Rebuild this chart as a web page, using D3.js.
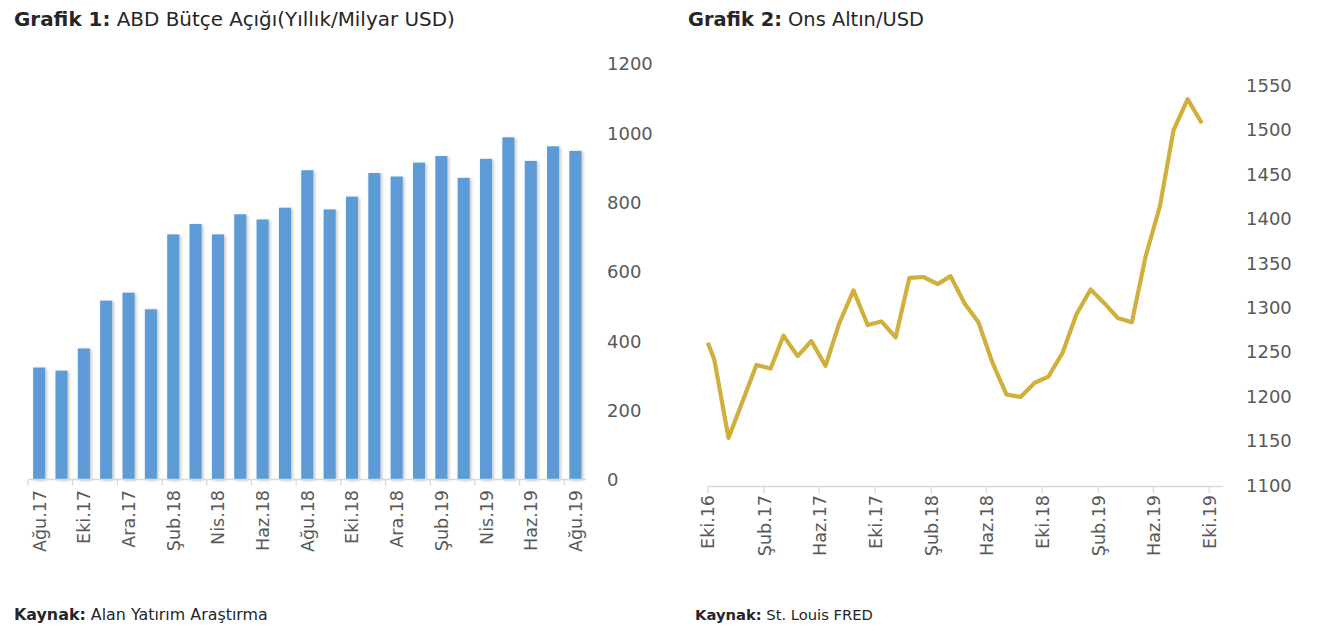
<!DOCTYPE html>
<html>
<head>
<meta charset="utf-8">
<script src="https://cdn.jsdelivr.net/npm/d3@7"></script>
<style>
  html, body { margin: 0; padding: 0; background: #fff; }
  svg { display: block; }
  text { font-family: "DejaVu Sans", "Noto Sans", sans-serif; }
</style>
</head>
<body>
<svg id="chart" width="1332" height="630"></svg>
<script>
// ---------- DATA ----------
// Chart 1: ABD bütçe açığı (yıllık, milyar USD), monthly Ağu.17 .. Ağu.19
const budgetMonths = ["2017-08","2017-09","2017-10","2017-11","2017-12","2018-01","2018-02","2018-03","2018-04","2018-05","2018-06","2018-07","2018-08","2018-09","2018-10","2018-11","2018-12","2019-01","2019-02","2019-03","2019-04","2019-05","2019-06","2019-07","2019-08"];
const budgetValues = [323, 314, 378, 516, 539, 491, 707, 737, 707, 765, 750, 784, 892, 779, 816, 884, 874, 914, 933, 870, 925, 987, 919, 961, 948];
const budgetTicks = [0, 200, 400, 600, 800, 1000, 1200];

// Chart 2: Ons altın / USD
const goldDates = ["2016-10-01","2016-10-15","2016-11-15","2016-12-15","2017-01-15","2017-02-15","2017-03-15","2017-04-15","2017-05-15","2017-06-15","2017-07-15","2017-08-15","2017-09-15","2017-10-15","2017-11-15","2017-12-15","2018-01-15","2018-02-15","2018-03-15","2018-04-15","2018-05-15","2018-06-15","2018-07-15","2018-08-15","2018-09-15","2018-10-15","2018-11-15","2018-12-15","2019-01-15","2019-02-15","2019-03-15","2019-04-15","2019-05-15","2019-06-15","2019-07-15","2019-08-15","2019-09-15"];
const goldValues = [1260, 1241, 1153, 1193, 1235, 1231, 1268, 1245, 1262, 1234, 1282, 1319, 1280, 1284, 1266, 1333, 1334, 1326, 1335, 1304, 1283, 1237, 1202, 1199, 1215, 1222, 1249, 1292, 1320, 1304, 1288, 1283, 1357, 1413, 1499, 1534, 1507];
const goldTicks = [1100, 1150, 1200, 1250, 1300, 1350, 1400, 1450, 1500, 1550];

const trMonths = ["Oca","Şub","Mar","Nis","May","Haz","Tem","Ağu","Eyl","Eki","Kas","Ara"];

// ---------- HELPERS ----------
const svg = d3.select("#chart");
const parseM = d3.timeParse("%Y-%m");
const parseD = d3.timeParse("%Y-%m-%d");
const fmtTR = d => trMonths[d.getMonth()] + "." + String(d.getFullYear()).slice(2);

const LABEL = "#595959";
const AXIS = "#d9d9d9";

function fitText(sel, targetWidth) {
  const node = sel.node();
  const w = node.getComputedTextLength();
  const fs = parseFloat(sel.attr("font-size"));
  sel.attr("font-size", (fs * targetWidth / w).toFixed(2));
}

function title(x, y, bold, rest, width) {
  const t = svg.append("text").attr("x", x).attr("y", y)
    .attr("font-size", 17).attr("fill", "#262626");
  t.append("tspan").attr("font-weight", "bold").text(bold);
  t.append("tspan").text(rest);
  fitText(t, width);
  return t;
}

function footer(x, y, bold, rest, width) {
  const t = svg.append("text").attr("x", x).attr("y", y)
    .attr("font-size", 14).attr("fill", "#262626");
  t.append("tspan").attr("font-weight", "bold").text(bold);
  t.append("tspan").text(rest);
  fitText(t, width);
  return t;
}

// shadow filter
const defs = svg.append("defs");
const f = defs.append("filter").attr("id", "shadow").attr("x", "-50%").attr("y", "-10%").attr("width", "200%").attr("height", "120%");
f.append("feDropShadow").attr("dx", 1.5).attr("dy", 1).attr("stdDeviation", 1.8)
  .attr("flood-color", "#000").attr("flood-opacity", 0.25);

// ---------- CHART 1 ----------
title(14, 26, "Grafik 1:", " ABD Bütçe Açığı(Yıllık/Milyar USD)", 441);

const months1 = budgetMonths.map(parseM);
const x1 = d3.scaleBand().domain(budgetMonths).range([28, 586.6]).paddingInner(0.46).paddingOuter(0.23);
const y1 = d3.scaleLinear().domain([0, 1200]).range([479.5, 63.5]);

svg.append("g").selectAll("rect").data(budgetMonths).join("rect")
  .attr("x", d => x1(d))
  .attr("width", x1.bandwidth())
  .attr("y", (d, i) => y1(budgetValues[i]))
  .attr("height", (d, i) => y1(0) - y1(budgetValues[i]))
  .attr("fill", "#5B9BD5")
  .attr("filter", "url(#shadow)");

// x axis (category, ticks every 2 categories at left boundaries)
const step1 = x1.step();
const g1 = svg.append("g");
g1.append("line").attr("x1", 28).attr("x2", 586.6).attr("y1", y1(0)).attr("y2", y1(0))
  .attr("stroke", AXIS).attr("stroke-width", 1.3);
budgetMonths.forEach((m, i) => {
  if (i % 2 === 0) {
    const tx = x1(m) - step1 * 0.23;
    g1.append("line").attr("x1", tx).attr("x2", tx).attr("y1", y1(0)).attr("y2", y1(0) + 6)
      .attr("stroke", AXIS).attr("stroke-width", 1.3);
    const cx = x1(m) + x1.bandwidth() / 2;
    g1.append("text")
      .attr("transform", `translate(${cx + 6.5},${490}) rotate(-90)`)
      .attr("text-anchor", "end")
      .attr("font-size", 17.5).attr("fill", LABEL)
      .text(fmtTR(months1[i]));
  }
});

// y axis labels on right
const yAx1 = d3.axisRight(y1).tickValues(budgetTicks).tickFormat(d3.format("d")).tickSize(0).tickPadding(0);
const ga1 = svg.append("g").attr("transform", "translate(607,0)").call(yAx1);
ga1.select(".domain").remove();
ga1.selectAll("text").attr("font-size", 18).attr("fill", LABEL)
  .attr("font-family", '"DejaVu Sans", sans-serif').attr("dy", "0.35em");

// ---------- CHART 2 ----------
title(688, 26, "Grafik 2:", " Ons Altın/USD", 236);

const x2 = d3.scaleTime().domain([new Date(2016, 9, 1), new Date(2019, 10, 1)]).range([707.9, 1223.4]);
const y2 = d3.scaleLinear().domain([1100, 1550]).range([485, 85]);

const g2 = svg.append("g");
g2.append("line").attr("x1", x2.range()[0]).attr("x2", x2.range()[1]).attr("y1", 486.5).attr("y2", 486.5)
  .attr("stroke", AXIS).attr("stroke-width", 1.3);
const tickDates2 = [];
for (let d = new Date(2016, 9, 1); d <= new Date(2019, 9, 1); d = d3.timeMonth.offset(d, 4)) tickDates2.push(d);
tickDates2.forEach(d => {
  const tx = x2(d);
  g2.append("line").attr("x1", tx).attr("x2", tx).attr("y1", 486.5).attr("y2", 493)
    .attr("stroke", AXIS).attr("stroke-width", 1.3);
  g2.append("text")
    .attr("transform", `translate(${tx + 6.5},${495}) rotate(-90)`)
    .attr("text-anchor", "end")
    .attr("font-size", 17.5).attr("fill", LABEL)
    .text(fmtTR(d));
});

const line2 = d3.line()
  .x((d, i) => x2(parseD(goldDates[i])))
  .y((d, i) => y2(goldValues[i]));
svg.append("path").datum(goldValues)
  .attr("d", line2)
  .attr("fill", "none")
  .attr("stroke", "#D1AF3C")
  .attr("stroke-width", 4.2)
  .attr("stroke-linejoin", "round");

const yAx2 = d3.axisRight(y2).tickValues(goldTicks).tickFormat(d3.format("d")).tickSize(0).tickPadding(0);
const ga2 = svg.append("g").attr("transform", "translate(1246,0)").call(yAx2);
ga2.select(".domain").remove();
ga2.selectAll("text").attr("font-size", 18).attr("fill", LABEL)
  .attr("font-family", '"DejaVu Sans", sans-serif').attr("dy", "0.35em");

// ---------- FOOTERS ----------
footer(14, 620, "Kaynak:", " Alan Yatırım Araştırma", 254);
footer(695, 620, "Kaynak:", " St. Louis FRED", 178);
</script>
</body>
</html>
